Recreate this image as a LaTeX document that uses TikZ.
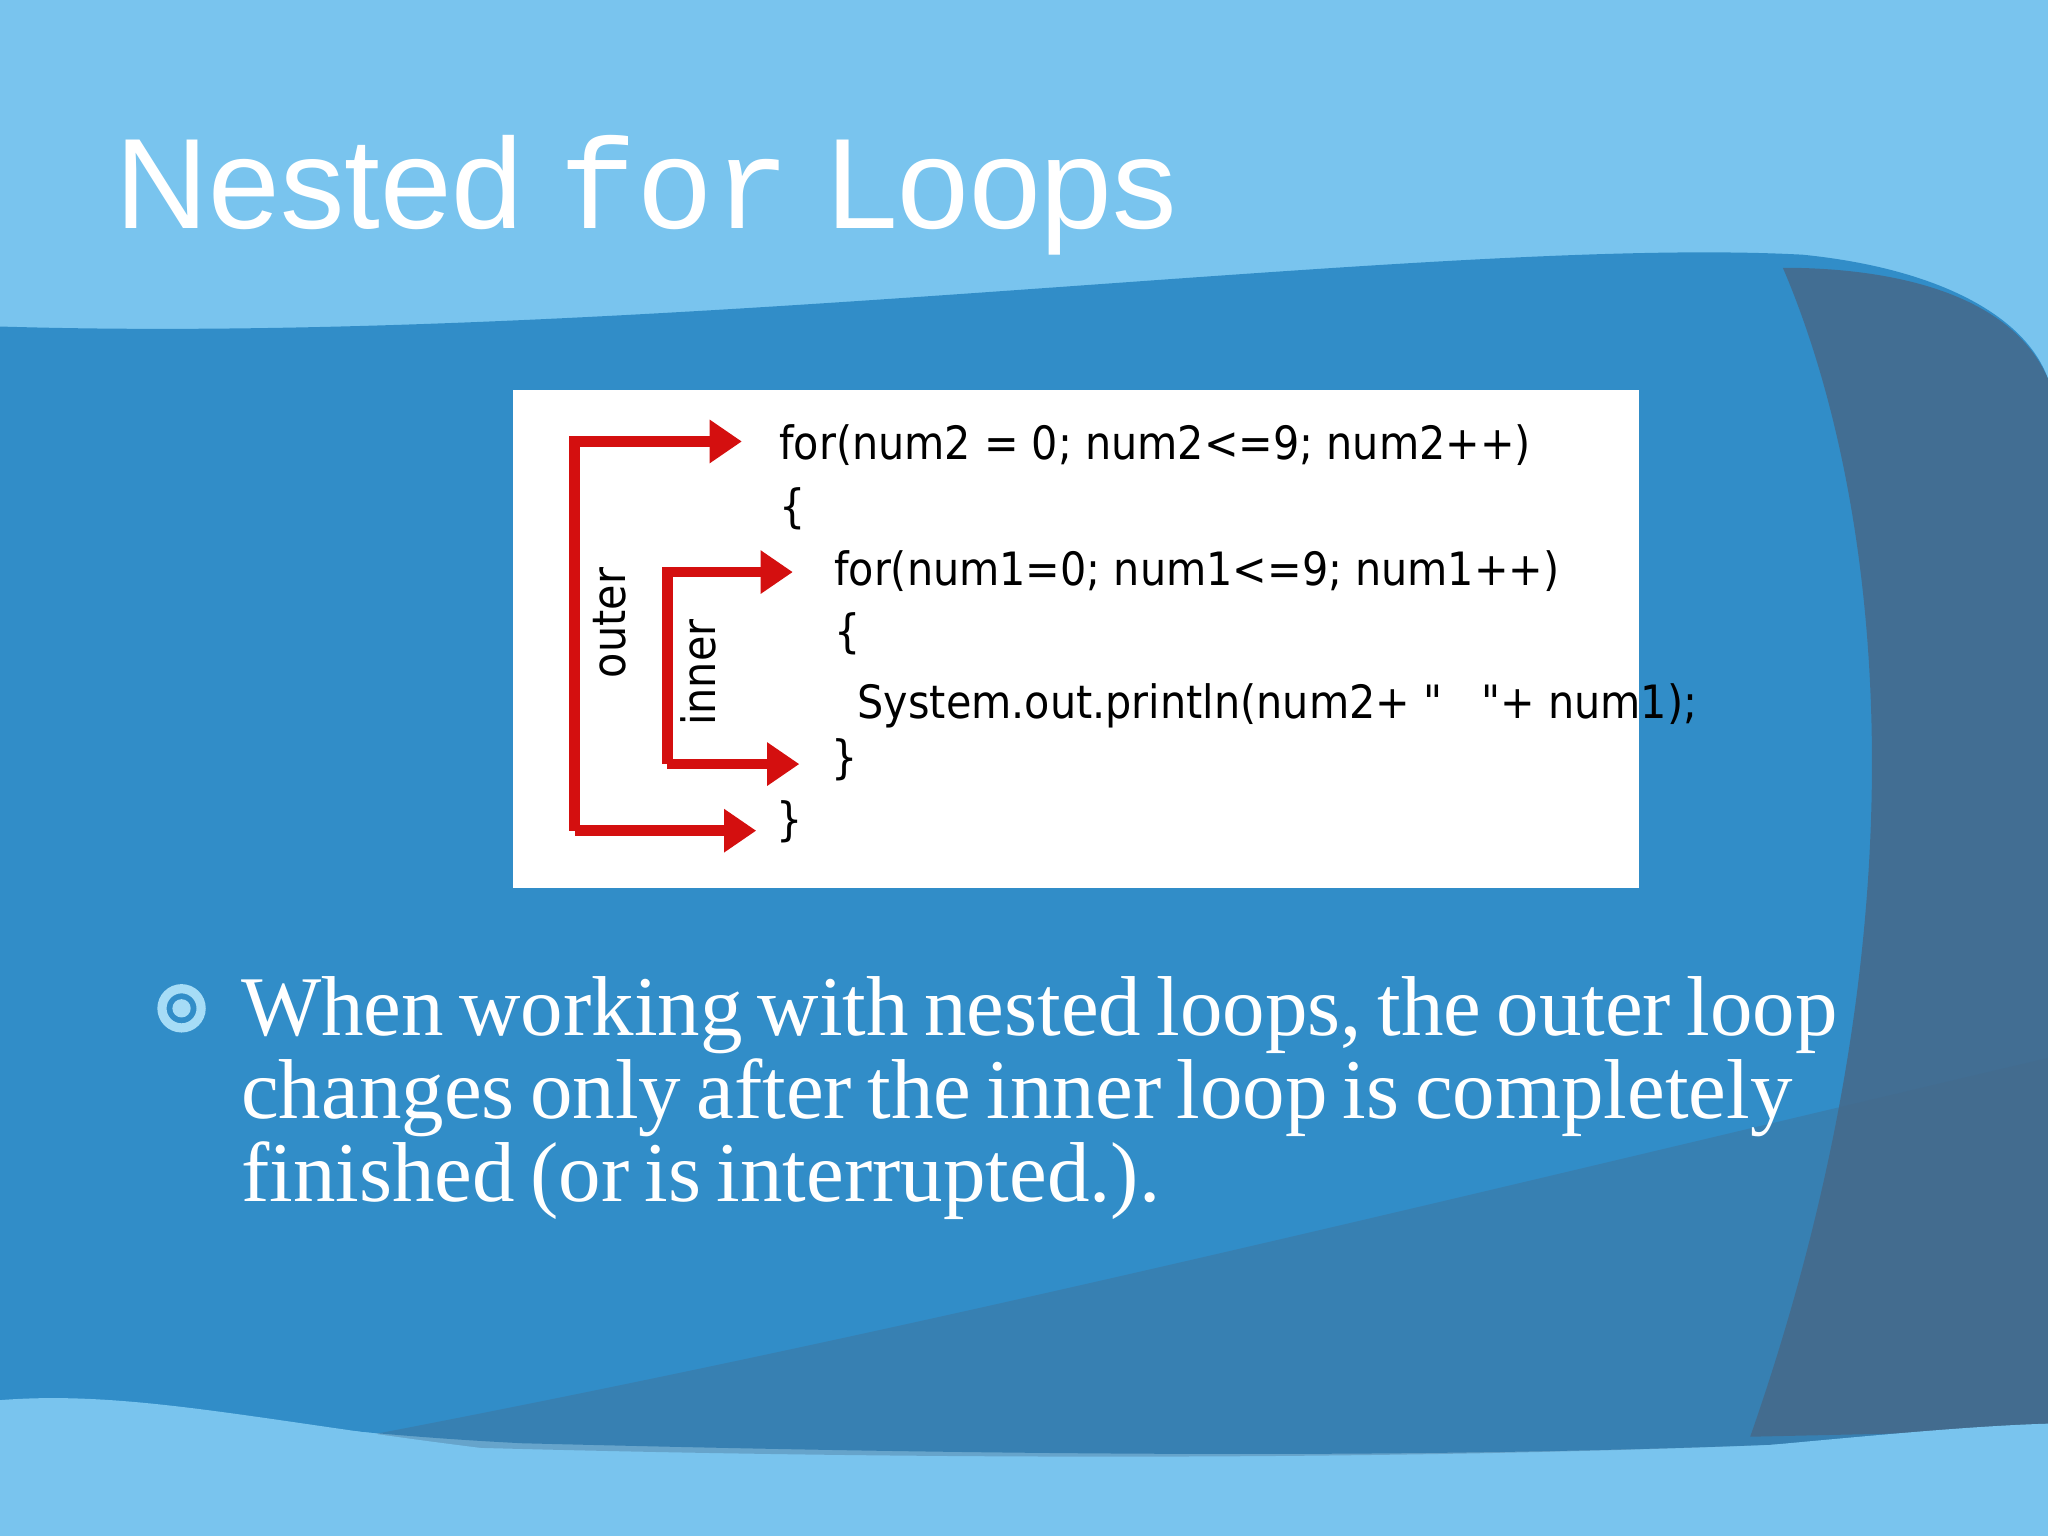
\documentclass[tikz,border=0pt]{standalone}
\usepackage{fontspec}
\setmainfont{Liberation Serif}
\newfontfamily\titlefont{Liberation Sans}
\newfontfamily\monofont{Liberation Mono}
\newfontfamily\codefont{DejaVu Sans Condensed}
\usetikzlibrary{arrows.meta}
\definecolor{lightbg}{HTML}{79C4EE}
\definecolor{midbg}{HTML}{318DC8}
\definecolor{darkbg}{HTML}{45698A}
\definecolor{loopred}{HTML}{D40F0F}
\definecolor{bulletc}{HTML}{A6DCF6}
\tikzset{
  loopline/.style={loopred, line width=2.3pt, -{Triangle[length=7pt,width=9pt]}},
  code/.style={anchor=base west, inner sep=0, font=\codefont\fontsize{10pt}{12pt}\selectfont},
  looplabel/.style={rotate=90, inner sep=0, font=\codefont\fontsize{10pt}{12pt}\selectfont}
}
\begin{document}
\begin{tikzpicture}[x=0.01cm,y=-0.01cm]
\useasboundingbox (0,0) rectangle (1568,1176);
\fill[lightbg] (0,0) rectangle (1568,1176);
% middle band
\fill[midbg] (0,250) .. controls (500,265) and (1100,180) .. (1380,195)
  .. controls (1480,205) and (1550,240) .. (1568,290) -- (1568,1095)
  .. controls (1200,1120) and (800,1115) .. (400,1105) .. controls (200,1095) and (100,1070) .. (0,1072) -- cycle;
% right dark region
\fill[darkbg,opacity=0.85] (1365,205) .. controls (1440,380) and (1480,700) .. (1340,1100)
  -- (1568,1095) -- (1568,290) .. controls (1540,225) and (1450,205) .. (1365,205) -- cycle;
% lower gray band
\fill[darkbg,opacity=0.35] (250,1105) .. controls (700,1020) and (1100,920) .. (1568,810) -- (1568,1095)
  .. controls (1200,1120) and (700,1120) .. (250,1105) -- cycle;
% bottom light wave
\fill[lightbg] (0,1072) .. controls (150,1060) and (300,1120) .. (700,1135)
  .. controls (1100,1145) and (1400,1095) .. (1568,1090) -- (1568,1176) -- (0,1176) -- cycle;
% title
\node[anchor=base west, inner sep=0, white] (title) at (88,175)
  {\fontsize{28pt}{30pt}\selectfont\titlefont Nested {\monofont for} Loops};
% white box
\node[fill=white, minimum width=862*0.01cm, minimum height=381*0.01cm, anchor=north west, inner sep=0] (box) at (392,298) {};
% code
\node[code] (l1) at (596,352) {for(num2 = 0; num2<=9; num2++)};
\node[code] (l2) at (596,400) {\{};
\node[code] (l3) at (638,448) {for(num1=0; num1<=9; num1++)};
\node[code] (l4) at (638,496) {\{};
\node[code] (l5) at (656,550) {System.out.println(num2+ "\ \ \ "+ num1);};
\node[code] (l6) at (636,592) {\}};
\node[code] (l7) at (594,640) {\}};
% arrows
\coordinate (o1) at (440,338); \coordinate (o2) at (440,636);
\coordinate (i1) at (511,438); \coordinate (i2) at (511,585);
\draw[loopline] (o2) -- (o1) -- (568,338);
\draw[loopline] (o2) -- (579,636);
\draw[loopline] (i2) -- (i1) -- (607,438);
\draw[loopline] (i2) -- (612,585);
\node[looplabel] (outer) at (467,477) {outer};
\node[looplabel] (inner) at (535,515) {inner};
% bullet
\draw[bulletc, line width=2pt] (139,772) circle (15);
\fill[bulletc] (139,772) circle (7);
\node[anchor=base west, inner sep=0, white, align=left, text width=1250*0.01cm] (txt) at (184,793)
  {\fontsize{18.5pt}{20.5pt}\selectfont When working with nested loops, the outer loop changes only after the inner loop is completely finished (or is interrupted.).};
\end{tikzpicture}
\end{document}
